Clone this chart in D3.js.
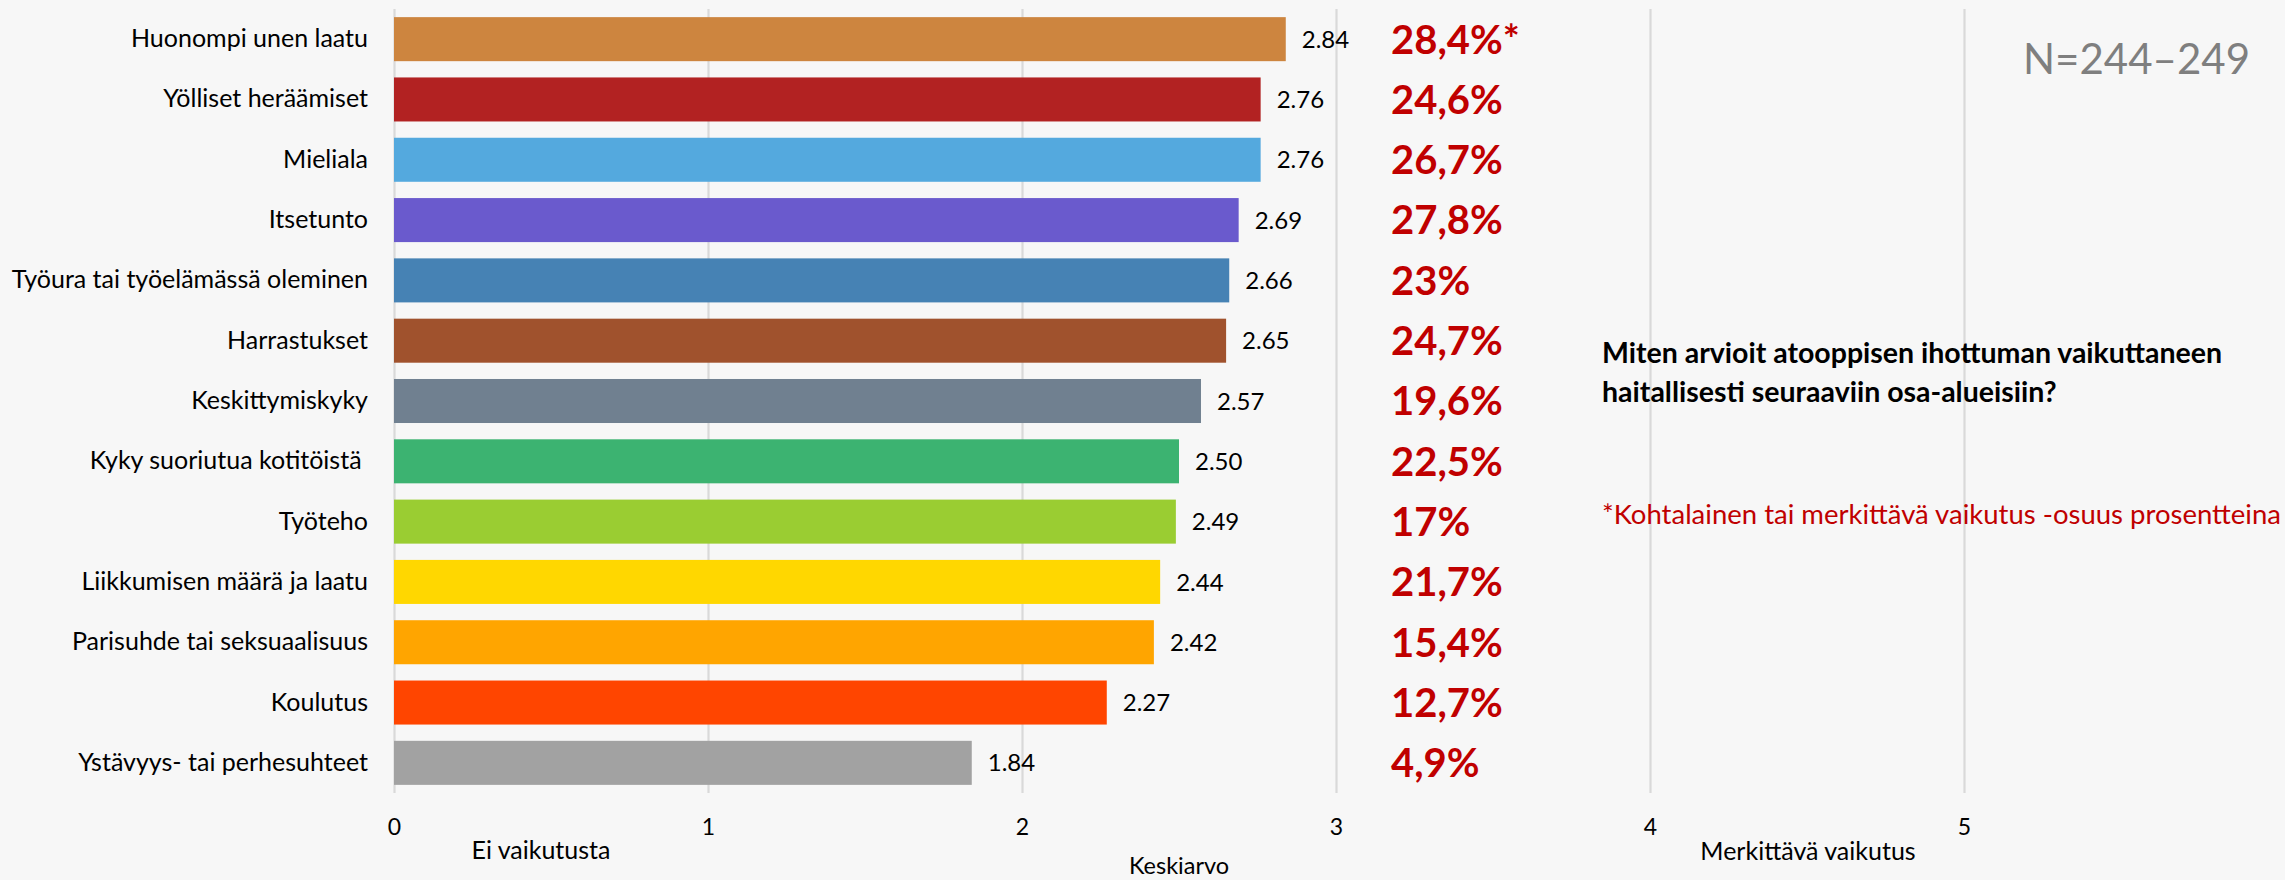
<!DOCTYPE html>
<html>
<head>
<meta charset="utf-8">
<script src="https://cdn.jsdelivr.net/npm/d3@7"></script>
<style>
  html, body { margin: 0; padding: 0; background: #F7F7F7; }
  svg { display: block; font-family: Lato, "Open Sans", sans-serif; }
</style>
</head>
<body>
<svg id="chart" width="2285" height="880"></svg>
<script>
// ---- data ----
const categories = [
  "Huonompi unen laatu",
  "Yölliset heräämiset",
  "Mieliala",
  "Itsetunto",
  "Työura tai työelämässä oleminen",
  "Harrastukset",
  "Keskittymiskyky",
  "Kyky suoriutua kotitöistä ",
  "Työteho",
  "Liikkumisen määrä ja laatu",
  "Parisuhde tai seksuaalisuus",
  "Koulutus",
  "Ystävyys- tai perhesuhteet"
];
const means = [2.84, 2.76, 2.76, 2.69, 2.66, 2.65, 2.57, 2.50, 2.49, 2.44, 2.42, 2.27, 1.84];
const shareLabels = ["28,4%*", "24,6%", "26,7%", "27,8%", "23%", "24,7%", "19,6%", "22,5%", "17%", "21,7%", "15,4%", "12,7%", "4,9%"];
const barColors = ["#CD853F", "#B22222", "#54A9DE", "#6A5ACD", "#4682B4", "#A0522D", "#708090",
                   "#3CB371", "#9ACD32", "#FFD700", "#FFA500", "#FF4500", "#A2A2A2"];
const xTicks = [0, 1, 2, 3, 4, 5];
const xDomain = [0, 5];
const nLabel = "N=244–249";
const questionLines = ["Miten arvioit atooppisen ihottuman vaikuttaneen", "haitallisesti seuraaviin osa-alueisiin?"];
const footnote = "*Kohtalainen tai merkittävä vaikutus -osuus prosentteina";
const axisLabels = { low: "Ei vaikutusta", mid: "Keskiarvo", high: "Merkittävä vaikutus" };

// ---- layout ----
const svg = d3.select("#chart");
const plot = { left: 394, right: 1964, top: 9, bottom: 793 };

const x = d3.scaleLinear().domain(xDomain).range([plot.left, plot.right]);
const y = d3.scaleBand().domain(categories).range([plot.top, plot.bottom])
  .paddingInner(0.27).paddingOuter(0.135);

// gridlines + tick labels via axis
const xAxis = svg.append("g")
  .attr("transform", `translate(0,${plot.bottom})`)
  .call(d3.axisBottom(x).tickValues(xTicks).tickFormat(d3.format("d"))
        .tickSize(-(plot.bottom - plot.top)).tickPadding(26));
xAxis.select(".domain").remove();
xAxis.selectAll(".tick line").attr("stroke", "#D9D9D9").attr("stroke-width", 2.2);
xAxis.selectAll(".tick text")
  .attr("fill", "#000").attr("font-size", 23).attr("font-family", "Lato, sans-serif");

// bars
svg.append("g").selectAll("rect")
  .data(categories)
  .join("rect")
  .attr("x", x(0))
  .attr("y", d => y(d))
  .attr("width", (d, i) => x(means[i]) - x(0))
  .attr("height", y.bandwidth())
  .attr("fill", (d, i) => barColors[i]);

// category axis
const yAxis = svg.append("g")
  .attr("transform", `translate(${plot.left},0)`)
  .call(d3.axisLeft(y).tickSize(0).tickPadding(26));
yAxis.select(".domain").remove();
yAxis.selectAll(".tick text")
  .attr("fill", "#000").attr("font-size", 25).attr("font-family", "Lato, sans-serif")
  .attr("xml:space", "preserve").style("white-space", "pre");

// value labels
svg.append("g").selectAll("text")
  .data(categories)
  .join("text")
  .attr("x", (d, i) => x(means[i]) + 16)
  .attr("y", d => y(d) + y.bandwidth() / 2)
  .attr("dy", "0.36em")
  .attr("font-size", 24)
  .attr("fill", "#000")
  .text((d, i) => means[i].toFixed(2));

// share labels
svg.append("g").selectAll("text")
  .data(categories)
  .join("text")
  .attr("x", 1391)
  .attr("y", d => y(d) + y.bandwidth() / 2)
  .attr("dy", "0.36em")
  .attr("font-size", 40)
  .attr("font-weight", 700)
  .attr("fill", "#C00000")
  .text((d, i) => shareLabels[i]);

// axis annotations
svg.append("text").attr("x", 541).attr("y", 859).attr("text-anchor", "middle")
  .attr("font-size", 25).attr("fill", "#000").text(axisLabels.low);
svg.append("text").attr("x", 1179).attr("y", 874).attr("text-anchor", "middle")
  .attr("font-size", 23.5).attr("fill", "#000").text(axisLabels.mid);
svg.append("text").attr("x", 1808).attr("y", 860).attr("text-anchor", "middle")
  .attr("font-size", 25).attr("fill", "#000").text(axisLabels.high);

// N label
svg.append("text").attr("x", 2250).attr("y", 74).attr("text-anchor", "end")
  .attr("font-size", 42).attr("fill", "#7F7F7F").text(nLabel);

// question
svg.append("g").selectAll("text")
  .data(questionLines)
  .join("text")
  .attr("x", 1602)
  .attr("y", (d, i) => 363 + i * 39)
  .attr("font-size", 28.5)
  .attr("font-weight", 700)
  .attr("fill", "#000")
  .text(d => d);

// footnote
svg.append("text").attr("x", 1602).attr("y", 524)
  .attr("font-size", 27.5).attr("fill", "#C00000").text(footnote);
</script>
</body>
</html>
